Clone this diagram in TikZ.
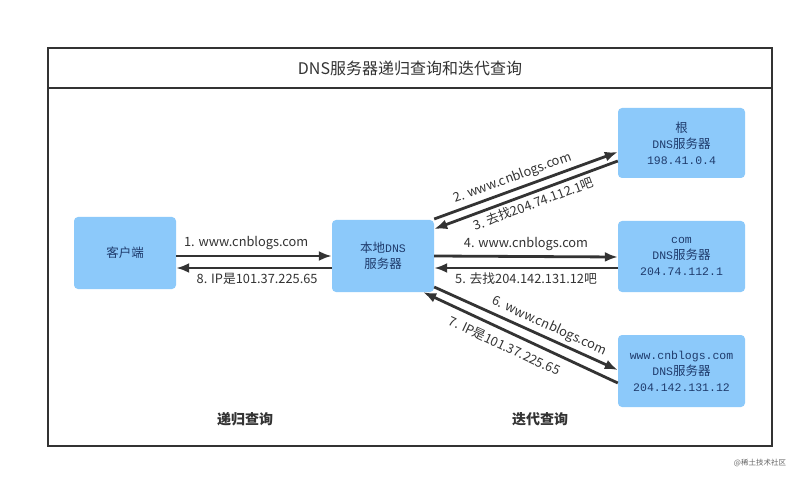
\documentclass[tikz,border=0pt]{standalone}
\usepackage{fontspec}
\setmainfont{Noto Sans CJK SC}
\newfontfamily\monofont{Liberation Mono}
\usetikzlibrary{arrows.meta}
\definecolor{boxblue}{HTML}{8CC9FA}
\definecolor{boxtext}{HTML}{1F3B6C}
\definecolor{linegray}{HTML}{333333}
\def\mono#1{{\monofont\fontsize{11.5}{16}\selectfont #1}}
\tikzset{
	server/.style={fill=boxblue, rounded corners=4pt, minimum width=127pt, minimum height=71pt,
		text=boxtext, align=center, inner sep=0pt, font=\fontsize{12.5}{16}\selectfont},
	msg/.style={draw=linegray, line width=2.8pt, -{Latex[length=13pt,width=10pt]}},
	msgtext/.style={font=\fontsize{12.8}{14}\selectfont, text=linegray, inner sep=1.5pt}
}

\begin{document}
\begin{tikzpicture}[x=1pt, y=-1pt]
	%%%%% START %%%%%
	\useasboundingbox[fill=white] (0,0) rectangle (805,478);
	
	\draw[line width=2pt, draw=linegray] (48,48) rectangle (772,445.5);
	\draw[line width=2pt, draw=linegray] (48,88) -- (772,88);
	\node[text=linegray, font=\fontsize{16}{18}\selectfont] (title) at (410,68) {DNS服务器递归查询和迭代查询};
	
	\node[server, minimum width=102pt, minimum height=72pt] (client) at (125,253) {客户端};
	\node[server, minimum width=102pt, minimum height=72pt] (local) at (383,256) {本地\mono{DNS}\\服务器};
	
	\node[server, minimum height=70pt] (root) at (681.5,143) {根\\\mono{DNS}服务器\\\mono{198.41.0.4}};
	\node[server] (com) at (681.5,256.5) {\mono{com}\\\mono{DNS}服务器\\\mono{204.74.112.1}};
	\node[server, minimum height=72pt] (www) at (681.5,371) {\mono{www.cnblogs.com}\\\mono{DNS}服务器\\\mono{204.142.131.12}};
	
	% recursive part
	\draw[msg] ([yshift=-3pt]client.east) -- node[msgtext, above=3pt, pos=0.45] {1. www.cnblogs.com} (local.west);
	\draw[msg] ([yshift=-12pt]local.west) -- node[msgtext, below=2pt, pos=0.48] {8. IP是101.37.225.65} ([yshift=-15pt]client.east);
	
	% iterative part
	\draw[msg] ([yshift=37pt]local.east) -- node[msgtext, above=2pt, sloped, pos=0.45] {2. www.cnblogs.com} ([yshift=-9pt]root.west);
	\draw[msg] ([yshift=-18pt]root.west) -- node[msgtext, below=2pt, sloped, pos=0.48] {3. 去找204.74.112.1吧} ([yshift=27pt]local.east);
	
	\draw[msg] (local.east) -- node[msgtext, above=3pt, pos=0.5] {4. www.cnblogs.com} ([yshift=-0.5pt]com.west);
	\draw[msg] ([yshift=-11.5pt]com.west) -- node[msgtext, below=2pt, pos=0.5] {5. 去找204.142.131.12吧} ([yshift=-12pt]local.east);
	
	\draw[msg] ([yshift=-31pt]local.east) -- node[msgtext, above=2pt, sloped, pos=0.6] {6. www.cnblogs.com} ([yshift=1pt]www.west);
	\draw[msg] ([yshift=-12pt]www.west) -- node[msgtext, below=6pt, sloped, pos=0.55] {7. IP是101.37.225.65} ([xshift=-11pt]local.south east);
	
	\node[text=linegray, font=\fontsize{14}{16}\selectfont\bfseries] (recursive) at (245,419) {递归查询};
	\node[text=linegray, font=\fontsize{14}{16}\selectfont\bfseries] (iterative) at (540,419) {迭代查询};
	
	\node[text=black!60, font=\fontsize{7.5}{9}\selectfont] (mark) at (760,463) {@稀土技术社区};
	%%%%% END %%%%%
\end{tikzpicture}
\end{document}
